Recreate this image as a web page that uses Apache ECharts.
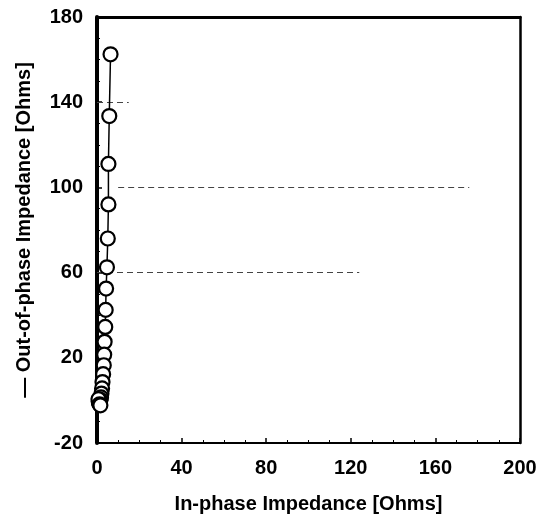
<!DOCTYPE html>
<html>
<head>
<meta charset="utf-8">
<script src="https://cdn.jsdelivr.net/npm/echarts@6/dist/echarts.min.js"></script>
<style>html,body{margin:0;padding:0;background:#fff}#c{width:540px;height:520px}</style>
</head>
<body>
<div id="c"></div>
<script>
// In-phase impedance (x) and out-of-phase impedance (y), Ohms
var inPhase  = [6.4, 5.8, 5.4, 5.4, 5.1, 4.7, 4.3, 4.1, 3.9, 3.6, 3.4, 3.2, 2.9, 2.6, 2.4, 2.1, 1.9, 1.6, 1.3, 1.0, 0.8, 0.7, 1.2, 1.6];
var outPhase = [162.5, 133.5, 111, 92, 76, 62.5, 52.5, 42.5, 34.5, 27.5, 21.5, 16.5, 12.3, 8.6, 5.6, 3.2, 1.4, 0.2, -0.8, -1.3, -0.5, 0.6, -1.8, -2.3];
var xTicks = [0, 40, 80, 120, 160, 200];
var yTicks = [-20, 20, 60, 100, 140, 180];
// faint dashed gridline fragments seen in the scan: [y, xStart, xEnd]
var gridFragments = [[140, 0, 15], [100, 10, 176], [60, 0, 124]];

var pts = inPhase.map(function (x, i) { return [x, outPhase[i]]; });
var fontFam = '"Liberation Sans", Arial, sans-serif';
var mlData = gridFragments.map(function (g) {
  return [{ coord: [g[1], g[0]] }, { coord: [g[2], g[0]] }];
});

var chart = echarts.init(document.getElementById('c'));
chart.setOption({
  animation: false,
  backgroundColor: '#fff',
  grid: { left: 97, right: 20, top: 17, bottom: 77, containLabel: false },
  xAxis: [{
    type: 'value', min: xTicks[0], max: xTicks[xTicks.length - 1], interval: 40,
    name: 'In-phase Impedance [Ohms]', nameLocation: 'middle', nameGap: 51,
    nameTextStyle: { fontFamily: fontFam, fontWeight: 'bold', fontSize: 20, color: '#000' },
    axisLine: { onZero: false, lineStyle: { color: '#000', width: 2 } },
    axisTick: { inside: true, length: 5, lineStyle: { color: '#000', width: 1.5 } },
    minorTick: { show: true, splitNumber: 4, length: 3, lineStyle: { color: '#000' } },
    axisLabel: { fontFamily: fontFam, fontWeight: 'bold', fontSize: 20, color: '#000', margin: 15 },
    splitLine: { show: false }
  }, {
    type: 'value', position: 'top', min: 0, max: 200, interval: 40,
    axisLine: { show: true, onZero: false, lineStyle: { color: '#000', width: 3 } },
    axisTick: { show: false }, axisLabel: { show: false }, splitLine: { show: false }
  }],
  yAxis: [{
    type: 'value', min: yTicks[0], max: yTicks[yTicks.length - 1], interval: 40,
    name: '\u2014 Out-of-phase Impedance [Ohms]', nameLocation: 'middle', nameGap: 63, nameRotate: 90,
    nameTextStyle: { fontFamily: fontFam, fontWeight: 'bold', fontSize: 20, color: '#000' },
    axisLine: { onZero: false, lineStyle: { color: '#000', width: 4 } },
    axisTick: { inside: true, length: 5, lineStyle: { color: '#000', width: 1.5 } },
    minorTick: { show: true, splitNumber: 4, length: 3, lineStyle: { color: '#000' } },
    axisLabel: { fontFamily: fontFam, fontWeight: 'bold', fontSize: 20, color: '#000', margin: 14 },
    splitLine: { show: false }
  }, {
    type: 'value', position: 'right', min: -20, max: 180, interval: 40,
    axisLine: { show: true, onZero: false, lineStyle: { color: '#000', width: 2.5 } },
    axisTick: { show: false }, axisLabel: { show: false }, splitLine: { show: false }
  }],
  series: [{
    type: 'line',
    data: pts,
    symbol: 'circle',
    symbolSize: 14,
    itemStyle: { color: '#fff', borderColor: '#000', borderWidth: 2.2 },
    lineStyle: { color: '#000', width: 1.5 },
    z: 5,
    markLine: {
      silent: true, symbol: 'none', label: { show: false },
      lineStyle: { color: '#444', type: [6, 4], width: 1.2 },
      data: mlData
    }
  }]
});
</script>
</body>
</html>
